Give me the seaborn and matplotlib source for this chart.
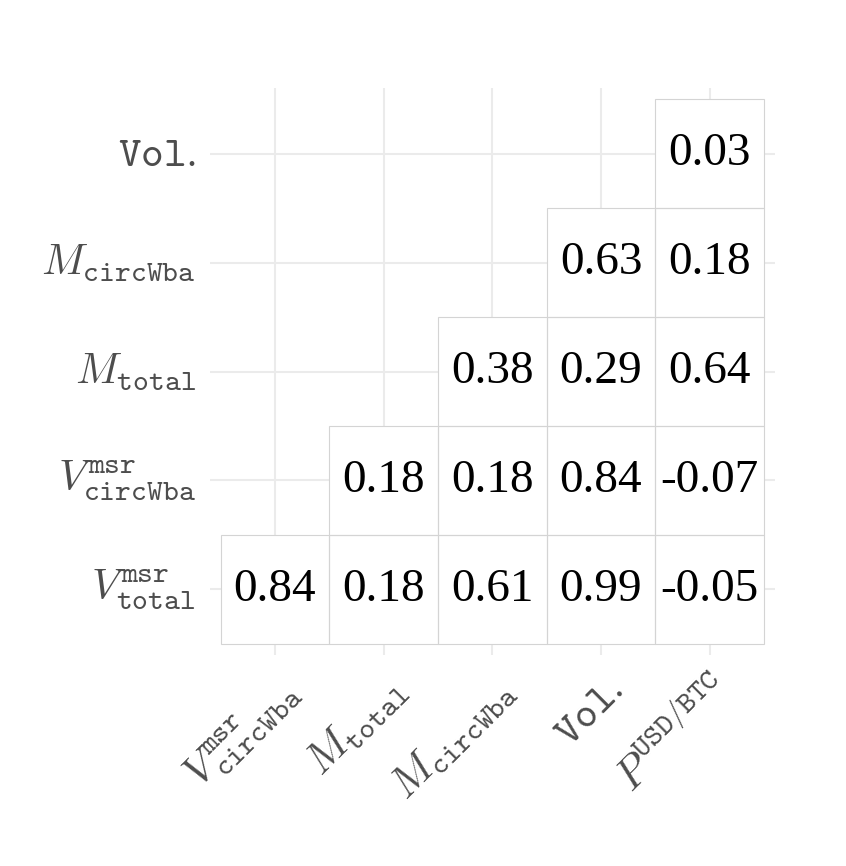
import numpy as np
import pandas as pd
import seaborn as sns
import matplotlib.pyplot as plt
from matplotlib.colors import ListedColormap
from matplotlib.patches import Rectangle

# Row / column labels (rows listed top to bottom)
row_labels = [r'$\mathtt{Vol.}$', r'$M_{\mathtt{circWba}}$', r'$M_{\mathtt{total}}$',
              r'$V^{\mathtt{msr}}_{\mathtt{circWba}}$', r'$V^{\mathtt{msr}}_{\mathtt{total}}$']
col_labels = [r'$V^{\mathtt{msr}}_{\mathtt{circWba}}$', r'$M_{\mathtt{total}}$',
              r'$M_{\mathtt{circWba}}$', r'$\mathtt{Vol.}$', r'$P^{\mathtt{USD/BTC}}$']

row_vol = [np.nan, np.nan, np.nan, np.nan, 0.03]
row_mcirc = [np.nan, np.nan, np.nan, 0.63, 0.18]
row_mtotal = [np.nan, np.nan, 0.38, 0.29, 0.64]
row_vcirc = [np.nan, 0.18, 0.18, 0.84, -0.07]
row_vtotal = [0.84, 0.18, 0.61, 0.99, -0.05]

corr = pd.DataFrame([row_vol, row_mcirc, row_mtotal, row_vcirc, row_vtotal],
                    index=row_labels, columns=col_labels)

plt.rcParams['mathtext.fontset'] = 'cm'

fig = plt.figure(figsize=(8.46, 8.66), dpi=100)
ax = fig.add_axes([0.248, 0.244, 0.668, 0.654])

sns.heatmap(corr, ax=ax, cmap=ListedColormap(['white']), cbar=False,
            annot=True, fmt='.2f', linewidths=0,
            annot_kws={'fontsize': 34, 'color': 'black', 'family': 'Liberation Serif'})

# thin borders only around filled cells
vals = corr.to_numpy()
for i in range(vals.shape[0]):
    for j in range(vals.shape[1]):
        if not np.isnan(vals[i, j]):
            ax.add_patch(Rectangle((j, i), 1, 1, fill=False, edgecolor='#d4d4d4',
                                   linewidth=0.8, zorder=2))

# ggplot-like minimal background grid
ax.set_axisbelow(True)
ax.grid(True, color='#ebebeb', linewidth=1.5)
ax.set_xlim(-0.1, 5.1)
ax.set_ylim(5.1, -0.1)
for s in ax.spines.values():
    s.set_visible(False)

ax.tick_params(length=0, labelsize=31, labelcolor='#4d4d4d', pad=10)
plt.setp(ax.get_xticklabels(), rotation=45, ha='right', rotation_mode='anchor')
plt.setp(ax.get_yticklabels(), rotation=0)
ax.set_xlabel('')
ax.set_ylabel('')

plt.savefig('out.png', dpi=100)
